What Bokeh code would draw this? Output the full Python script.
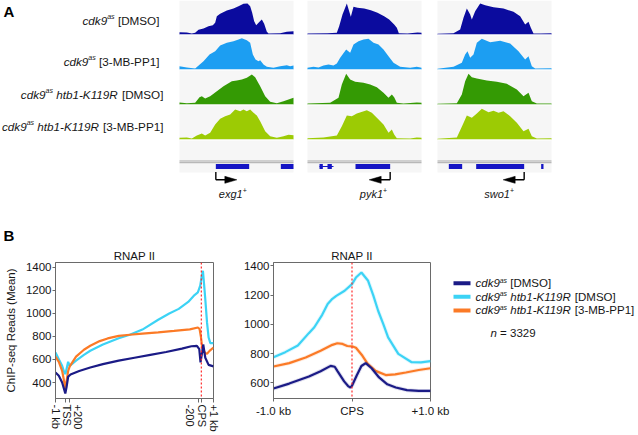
from bokeh.plotting import figure
from bokeh.models import Range1d, FixedTicker, Span
from bokeh.layouts import column, row
from bokeh.embed import file_html
from bokeh.resources import INLINE
from bokeh.core.properties import value

FONT = "Liberation Sans"
INK = "#161616"

# ---------------- Panel A data ----------------
genes = ["exg1", "pyk1", "swo1"]
track_genotype = ["", "", "htb1-K119R", "htb1-K119R"]
track_treatment = ["DMSO", "3-MB-PP1", "DMSO", "3-MB-PP1"]
track_colors = ["#0b0b9e", "#1c9ef2", "#349a04", "#9ccb04"]

# coverage profiles: position within locus window (0-342) and read depth (relative)
exg1_r1_x = [0, 22, 37, 47, 57, 72, 87, 100, 107, 112, 122, 142, 162, 177, 192, 204, 212, 218, 224, 230, 240, 247, 254, 262, 267, 302, 322, 342]
exg1_r1_y = [7, 6, 3, 5, 14, 18, 25, 28, 35, 55, 62, 72, 78, 85, 92, 93, 85, 65, 40, 28, 38, 45, 32, 8, 3, 4, 8, 10]
exg1_r2_x = [0, 22, 47, 72, 90, 107, 122, 142, 162, 177, 187, 202, 212, 220, 228, 237, 242, 252, 262, 282, 302, 322, 332, 342]
exg1_r2_y = [10, 6, 3, 25, 45, 55, 72, 80, 85, 90, 94, 88, 80, 45, 30, 25, 28, 15, 8, 5, 10, 13, 10, 12]
exg1_r3_x = [0, 22, 47, 60, 67, 77, 92, 112, 132, 157, 172, 187, 202, 217, 227, 242, 257, 272, 292, 312, 342]
exg1_r3_y = [6, 4, 5, 22, 25, 18, 25, 40, 55, 70, 72, 75, 80, 90, 82, 55, 25, 8, 4, 10, 20]
exg1_r4_x = [0, 22, 37, 52, 67, 77, 92, 107, 122, 137, 152, 167, 182, 192, 202, 212, 222, 232, 242, 257, 272, 292, 312, 327, 342]
exg1_r4_y = [5, 6, 3, 12, 18, 12, 20, 45, 62, 70, 75, 90, 85, 90, 85, 90, 80, 72, 55, 25, 10, 5, 10, 14, 13]

pyk1_r1_x = [0, 60, 88, 95, 105, 118, 125, 130, 138, 150, 170, 190, 210, 230, 245, 260, 268, 274, 300, 330, 342]
pyk1_r1_y = [3, 4, 5, 25, 60, 93, 70, 53, 83, 80, 78, 73, 65, 55, 45, 30, 20, 4, 3, 6, 5]
pyk1_r2_x = [0, 18, 33, 48, 63, 78, 88, 98, 116, 128, 138, 153, 168, 183, 198, 213, 228, 243, 258, 278, 308, 328, 342]
pyk1_r2_y = [5, 8, 6, 12, 15, 12, 18, 35, 60, 50, 75, 85, 90, 92, 80, 75, 60, 40, 20, 8, 5, 8, 5]
pyk1_r3_x = [0, 68, 93, 103, 116, 128, 143, 168, 188, 208, 228, 243, 253, 260, 268, 288, 328, 342]
pyk1_r3_y = [3, 5, 20, 60, 92, 75, 68, 65, 60, 52, 35, 20, 30, 22, 5, 3, 6, 5]
pyk1_r4_x = [0, 48, 88, 103, 118, 133, 148, 178, 193, 208, 228, 243, 253, 260, 268, 308, 328, 342]
pyk1_r4_y = [4, 6, 12, 40, 72, 70, 78, 88, 80, 65, 45, 20, 30, 15, 4, 3, 6, 5]

swo1_r1_x = [0, 48, 68, 78, 88, 98, 103, 113, 128, 143, 168, 198, 228, 248, 263, 273, 280, 288, 310, 342]
swo1_r1_y = [2, 4, 15, 50, 78, 60, 45, 70, 93, 88, 82, 78, 68, 55, 30, 38, 20, 3, 3, 4]
swo1_r2_x = [0, 48, 73, 83, 90, 98, 108, 118, 133, 158, 188, 218, 243, 263, 273, 283, 293, 342]
swo1_r2_y = [2, 8, 20, 45, 55, 35, 45, 80, 92, 82, 86, 78, 55, 30, 40, 10, 3, 4]
swo1_r3_x = [0, 58, 73, 83, 93, 103, 118, 148, 178, 208, 238, 258, 273, 283, 298, 342]
swo1_r3_y = [2, 4, 30, 70, 92, 82, 78, 72, 68, 62, 45, 25, 35, 10, 3, 3]
swo1_r4_x = [0, 58, 76, 88, 103, 118, 133, 153, 168, 183, 198, 218, 238, 258, 273, 283, 298, 342]
swo1_r4_y = [2, 6, 45, 72, 65, 78, 92, 82, 86, 80, 85, 70, 50, 25, 32, 10, 3, 4]

exg1_exons = [(109, 209), (304, 342)]
pyk1_exons = [(36, 46), (60, 73), (144, 248)]
pyk1_links = [(36, 78)]
swo1_exons = [(34, 74), (116, 260), (311, 318)]
gene_tss = [109, 248, 260]
gene_strand = [1, -1, -1]
gene_label_pos = [160, 198, 185]

# ---------------- Panel B data ----------------
series_genotype = ["", "htb1-K119R", "htb1-K119R"]
series_treatment = ["DMSO", "DMSO", "3-MB-PP1"]
series_colors = ["#1b1b86", "#3cd3f5", "#fb7a26"]
n_genes = "3329"

# metagene (scaled, 0-100)
b1_tick_pos = [0, 6.5, 9.0, 90.5, 92.3, 100]
b1_label_pos = [0, 7, 14, 85, 93, 100]
b1_tick_labels = ["-1 kb", "TSS", "+200", "-200", "CPS", "+1 kb"]
b1_cps = 92.3

b1_navy_x = [0, 2.1, 4.2, 5.3, 6.2, 7.0, 8.0, 9.5, 15, 22, 30, 40, 50, 60, 70, 80, 86, 89.5, 91.0, 91.8, 92.9, 93.5, 94.8, 96.9, 100]
b1_navy = [487, 458, 400, 348, 305, 360, 450, 470, 500, 530, 560, 590, 615, 640, 665, 695, 715, 718, 690, 575, 670, 730, 615, 553, 540]
b1_cyan_x = [0, 2.1, 4.2, 5.6, 6.3, 7.2, 8.0, 9.0, 13, 18, 22, 30, 40, 47, 55, 65, 72, 78, 84, 88, 90.1, 91.6, 92.5, 93.3, 94.0, 94.8, 95.9, 96.9, 98, 100]
b1_cyan = [661, 603, 545, 487, 473, 530, 580, 545, 590, 640, 676, 730, 785, 815, 860, 945, 1000, 1040, 1100, 1160, 1183, 1241, 1320, 1371, 1260, 1125, 922, 791, 742, 742]
b1_orange_x = [0, 2.1, 4.2, 5.6, 6.3, 7.2, 8.0, 9.0, 13, 18, 22, 28, 33, 40, 47, 55, 65, 75, 85, 90.1, 91.2, 92.0, 92.8, 93.5, 94.8, 95.9, 97.5, 100]
b1_orange = [626, 580, 502, 400, 340, 430, 500, 540, 625, 685, 719, 760, 783, 805, 815, 825, 835, 848, 862, 878, 865, 800, 710, 680, 655, 650, 675, 704]

# around CPS (kb)
b2_ticks = [-1, 0, 1]
b2_tick_labels = ["-1.0 kb", "CPS", "+1.0 kb"]
b2_cyan_x = [-1.0, -0.85, -0.69, -0.55, -0.48, -0.38, -0.31, -0.25, -0.2, -0.094, 0, 0.05, 0.12, 0.205, 0.27, 0.333, 0.4, 0.46, 0.59, 0.76, 0.88, 1.0]
b2_cyan = [775, 810, 855, 940, 980, 1065, 1140, 1175, 1195, 1230, 1275, 1320, 1355, 1298, 1200, 1093, 1000, 911, 798, 741, 740, 748]
b2_orange_x = [-1.0, -0.8, -0.59, -0.4, -0.25, -0.187, -0.12, -0.06, 0, 0.05, 0.133, 0.2, 0.3, 0.43, 0.55, 0.686, 0.85, 1.0]
b2_orange = [712, 735, 773, 819, 860, 871, 866, 852, 850, 840, 785, 730, 682, 653, 658, 671, 688, 700]
b2_navy_x = [-1.0, -0.8, -0.549, -0.4, -0.272, -0.22, -0.187, -0.1, -0.05, -0.02, 0, 0.06, 0.12, 0.175, 0.25, 0.345, 0.45, 0.558, 0.7, 0.85, 1.0]
b2_navy = [561, 595, 643, 680, 716, 710, 682, 610, 578, 568, 580, 650, 715, 735, 700, 637, 590, 568, 550, 545, 545]

# ---------------- text helpers ----------------
W = {' ': 278, '[': 278, ']': 278, '-': 333, '+': 584, '=': 584, '(': 333, ')': 333,
     'A': 667, 'B': 667, 'D': 722, 'K': 667, 'M': 833, 'O': 778, 'P': 667, 'R': 722, 'S': 667,
     'a': 556, 'b': 556, 'c': 500, 'd': 556, 'e': 556, 'g': 556, 'h': 556, 'k': 500, 'n': 556,
     'o': 556, 'p': 556, 's': 500, 't': 278, 'w': 722, 'x': 500, 'y': 500}


def tw(s, size):
    return sum(W.get(c, 556) for c in s) * size / 1000.0


def rich(p, x, y, pieces, anchor="left"):
    total = sum(tw(t, s) for t, s, _, _ in pieces)
    cx = x if anchor == "left" else (x - total if anchor == "right" else x - total / 2.0)
    for t, s, st, dy in pieces:
        lead = len(t) - len(t.lstrip(" "))
        cx += lead * 278 * s / 1000.0
        body = t.strip(" ")
        p.text(x=[cx], y=[y - dy], text=[body], text_font=value(FONT),
               text_font_size=f"{s:.1f}px", text_font_style=st,
               text_align="left", text_baseline="middle", text_color=INK)
        cx += tw(body, s)


def strain_pieces(genotype, treatment, size):
    pcs = [("cdk9", size, "italic", 0), ("as", size * 0.6, "italic", size * 0.36)]
    if genotype:
        pcs.append((" " + genotype, size, "italic", 0))
    pcs.append((" [" + treatment + "]", size, "normal", 0))
    return pcs


def bare(p):
    p.grid.visible = False
    p.outline_line_color = None
    p.background_fill_color = "white"
    p.border_fill_color = "white"


PAGE_W, PAGE_H = 638, 435

# ---------------- Panel A (page-pixel coordinates) ----------------
A_BOTTOM = 245
pA = figure(width=PAGE_W, height=A_BOTTOM, x_range=Range1d(0, PAGE_W), y_range=Range1d(A_BOTTOM, 0),
            toolbar_location=None, output_backend="svg", min_border=0,
            x_axis_location=None, y_axis_location=None)
bare(pA)

panel_x0 = [179, 307, 437]
panel_w = 114
ppu = panel_w / 342.0
row_top0, row_h = 0, 35
depth_px = 0.333

profiles = [
    [(exg1_r1_x, exg1_r1_y), (exg1_r2_x, exg1_r2_y), (exg1_r3_x, exg1_r3_y), (exg1_r4_x, exg1_r4_y)],
    [(pyk1_r1_x, pyk1_r1_y), (pyk1_r2_x, pyk1_r2_y), (pyk1_r3_x, pyk1_r3_y), (pyk1_r4_x, pyk1_r4_y)],
    [(swo1_r1_x, swo1_r1_y), (swo1_r2_x, swo1_r2_y), (swo1_r3_x, swo1_r3_y), (swo1_r4_x, swo1_r4_y)],
]
exons = [exg1_exons, pyk1_exons, swo1_exons]
links = [[], pyk1_links, []]

line_y = 160.5
box_top, box_bot = 163.5, 168.5
for g, x0 in enumerate(panel_x0):
    pA.quad(left=[x0], right=[x0 + panel_w], top=[0], bottom=[172],
            fill_color="#f6f6f6", line_color=None)
    for k in range(4):
        base = row_top0 + row_h * k + 34
        xs, ys = profiles[g][k]
        px = [x0 + u * ppu for u in xs]
        pA.varea(x=px, y1=[base] * len(px), y2=[base - v * depth_px for v in ys],
                 fill_color=track_colors[k])
        pA.segment(x0=[x0], x1=[x0 + panel_w], y0=[base + 0.5], y1=[base + 0.5],
                   line_color="white", line_width=1)
    for dy in (0, 1.7):
        pA.segment(x0=[x0], x1=[x0 + panel_w], y0=[line_y + dy], y1=[line_y + dy],
                   line_color="#a9a9a9", line_width=1)
    for a, b in links[g]:
        pA.segment(x0=[x0 + a * ppu], x1=[x0 + b * ppu], y0=[(box_top + box_bot) / 2],
                   y1=[(box_top + box_bot) / 2], line_color="#1414c4", line_width=1)
    for a, b in exons[g]:
        pA.quad(left=[x0 + a * ppu], right=[x0 + b * ppu], top=[box_top], bottom=[box_bot],
                fill_color="#1414c4", line_color=None)
    # TSS arrow
    tx = x0 + gene_tss[g] * ppu
    d = gene_strand[g]
    ay = 179.3
    tip = tx + d * 21
    pA.segment(x0=[tx], x1=[tx], y0=[171.5], y1=[ay], line_color="black", line_width=1.4)
    pA.segment(x0=[tx], x1=[tip - d * 10], y0=[ay], y1=[ay], line_color="black", line_width=1.4)
    pA.patch(x=[tip, tip - d * 12, tip - d * 12], y=[ay, ay - 3.5, ay + 3.5],
             fill_color="black", line_color="black", line_width=0.5)
    # gene name
    rich(pA, x0 + gene_label_pos[g] * ppu, 193,
         [(genes[g], 11, "italic", 0), ("+", 7, "normal", 3.5)], anchor="center")

label_y = [20, 61, 94, 126]
label_right = [159, 159, 163, 163]
for k in range(4):
    rich(pA, label_right[k], label_y[k],
         strain_pieces(track_genotype[k], track_treatment[k], 11.7), anchor="right")

for lbl, ly in (("A", 11), ("B", 235)):
    pA.text(x=[3], y=[ly], text=[lbl], text_font=value(FONT), text_font_size="15px",
            text_font_style="bold", text_align="left", text_baseline="middle", text_color="black")

# ---------------- Panel B ----------------
AX = "#6a6a6a"
ROW_H = PAGE_H - A_BOTTOM       # 190
B_TOP, B_BOTTOM = 17, 37
B_FRAME_H = ROW_H - B_TOP - B_BOTTOM


def style_axes(p, yticks):
    p.grid.visible = False
    p.outline_line_color = AX
    p.outline_line_width = 1
    p.background_fill_color = "white"
    p.border_fill_color = "white"
    p.title.align = "center"
    p.title.text_font = FONT
    p.title.text_font_size = "11.5px"
    p.title.text_font_style = "normal"
    p.title.text_color = INK
    p.title.standoff = 2
    ya = p.yaxis[0]
    ya.ticker = FixedTicker(ticks=yticks)
    ya.major_tick_out = 3
    ya.major_tick_in = 0
    ya.minor_tick_line_color = None
    ya.axis_line_color = AX
    ya.major_tick_line_color = AX
    ya.major_label_standoff = 1
    ya.major_label_text_font = FONT
    ya.major_label_text_font_size = "11.5px"
    ya.major_label_text_color = INK


pB1 = figure(frame_width=158, frame_height=B_FRAME_H, min_border_left=55, min_border_right=10,
             min_border_top=B_TOP, min_border_bottom=B_BOTTOM, x_range=Range1d(0, 100),
             y_range=Range1d(261, 1443), title="RNAP II", toolbar_location=None,
             output_backend="svg")
style_axes(pB1, [400, 600, 800, 1000, 1200, 1400])
ya = pB1.yaxis[0]
ya.axis_label = "ChIP-seq Reads (Mean)"
ya.axis_label_text_font = FONT
ya.axis_label_text_font_size = "11.5px"
ya.axis_label_text_font_style = "normal"
ya.axis_label_text_color = INK
ya.axis_label_standoff = 6

xa = pB1.xaxis[0]
xa.ticker = FixedTicker(ticks=b1_label_pos, minor_ticks=b1_tick_pos)
xa.major_label_overrides = {p: l for p, l in zip(b1_label_pos, b1_tick_labels)}
xa.major_label_orientation = "vertical"
xa.major_tick_line_color = None
xa.major_tick_out = 4
xa.major_tick_in = 0
xa.minor_tick_line_color = AX
xa.minor_tick_out = 4
xa.minor_tick_in = 0
xa.axis_line_color = AX
xa.major_label_standoff = 2
xa.major_label_text_font = FONT
xa.major_label_text_font_size = "11px"
xa.major_label_text_color = INK

pB1.line(b1_cyan_x, b1_cyan, line_color=series_colors[1], line_width=2.2)
pB1.line(b1_orange_x, b1_orange, line_color=series_colors[2], line_width=2.2)
pB1.line(b1_navy_x, b1_navy, line_color=series_colors[0], line_width=2.2)
pB1.add_layout(Span(location=b1_cps, dimension="height", line_color="#ff2a2a",
                    line_dash="2 2", line_width=1.2))

pB2 = figure(frame_width=157, frame_height=B_FRAME_H, min_border_left=50, min_border_right=22,
             min_border_top=B_TOP, min_border_bottom=B_BOTTOM, x_range=Range1d(-1.0, 1.0),
             y_range=Range1d(493, 1423), title="RNAP II", toolbar_location=None,
             output_backend="svg")
style_axes(pB2, [600, 800, 1000, 1200, 1400])
xb = pB2.xaxis[0]
xb.ticker = FixedTicker(ticks=b2_ticks)
xb.major_label_overrides = {t: l for t, l in zip(b2_ticks, b2_tick_labels)}
xb.major_tick_out = 3
xb.major_tick_in = 0
xb.minor_tick_line_color = None
xb.axis_line_color = AX
xb.major_tick_line_color = AX
xb.major_label_standoff = 3
xb.major_label_text_font = FONT
xb.major_label_text_font_size = "11.5px"
xb.major_label_text_color = INK

for xs, ys, c in [(b2_cyan_x, b2_cyan, series_colors[1]),
                  (b2_orange_x, b2_orange, series_colors[2]),
                  (b2_navy_x, b2_navy, series_colors[0])]:
    pB2.line(xs, ys, line_color=c, line_width=4, line_alpha=0.15)
    pB2.line(xs, ys, line_color=c, line_width=2.2)
pB2.add_layout(Span(location=0, dimension="height", line_color="#ff2a2a",
                    line_dash="2 2", line_width=1.2))

# legend panel (page-pixel coordinates)
L_X0 = 55 + 158 + 10 + 50 + 157 + 22
pL = figure(width=PAGE_W - L_X0, height=ROW_H, x_range=Range1d(L_X0, PAGE_W),
            y_range=Range1d(PAGE_H, A_BOTTOM), toolbar_location=None, output_backend="svg",
            min_border=0, x_axis_location=None, y_axis_location=None)
bare(pL)
leg_y = [274, 293, 312]
for i in range(3):
    pL.segment(x0=[453], x1=[470], y0=[leg_y[i]], y1=[leg_y[i]],
               line_color=series_colors[i], line_width=4)
    rich(pL, 475, leg_y[i], strain_pieces(series_genotype[i], series_treatment[i], 11.5))
rich(pL, 490, 344, [("n", 11.5, "italic", 0), (" = " + n_genes, 11.5, "normal", 0)])

root = column(pA, row(pB1, pB2, pL))
open("out.html", "w").write(file_html(root, INLINE))
